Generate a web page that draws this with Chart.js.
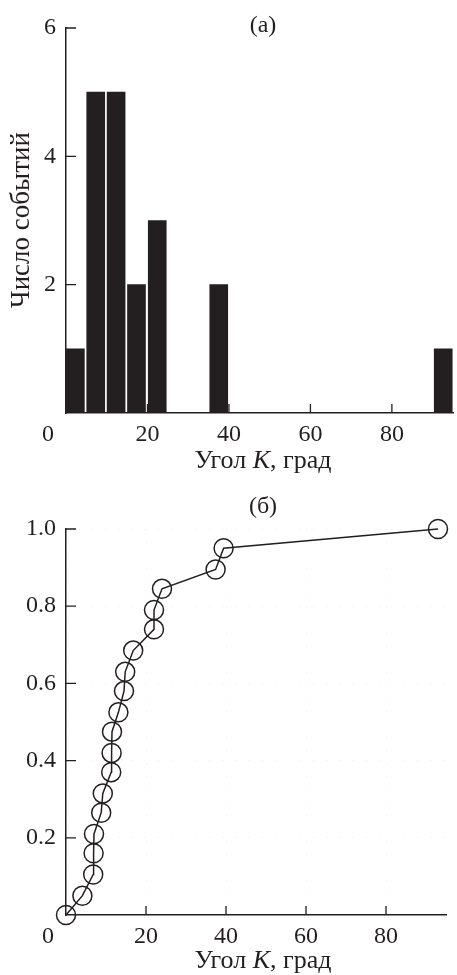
<!DOCTYPE html>
<html>
<head>
<meta charset="utf-8">
<script src="https://cdn.jsdelivr.net/npm/chart.js@4.4.1/dist/chart.umd.min.js"></script>
<style>
  html, body { margin: 0; padding: 0; background: #fff; }
  #wrap { position: relative; width: 457px; height: 975px; }
  canvas { position: absolute; left: 0; }
  #histChart { top: 0; }
  #cumChart { top: 470px; }
</style>
</head>
<body>
<div id="wrap">
  <canvas id="histChart" width="457" height="482"></canvas>
  <canvas id="cumChart" width="457" height="505"></canvas>
</div>
<script>
// (а) number of events per 5-degree bin of angle K
const binCenters = [2.3, 7.3, 12.3, 17.3, 22.4, 37.5, 92.6];
const eventCounts = [1, 5, 5, 2, 3, 2, 1];
const histTicksY = [2, 4, 6];

// (б) cumulative fraction of events vs angle K
const angleK = [0, 4.1, 6.8, 6.9, 7.0, 8.8, 9.2, 11.3, 11.4, 11.5, 13.1, 14.5, 14.8, 16.8, 22.0, 22.0, 24.0, 37.4, 39.4, 93.0];
const cumFraction = [0, 0.05, 0.105, 0.16, 0.21, 0.265, 0.315, 0.37, 0.42, 0.475, 0.525, 0.58, 0.63, 0.685, 0.74, 0.79, 0.845, 0.895, 0.95, 1.0];
const cumTicksY = [0.2, 0.4, 0.6, 0.8, 1.0];

const xTicks = [0, 20, 40, 60, 80];

const FONT = '"Liberation Serif", "Times New Roman", serif';
const INK = '#231f20';

// short tick marks pointing into the plot
const inwardTicks = {
  id: 'inwardTicks',
  beforeDatasetsDraw(chart) {
    const { ctx, chartArea: a, scales: { x, y } } = chart;
    ctx.save();
    ctx.strokeStyle = INK;
    ctx.lineWidth = 1.3;
    ctx.beginPath();
    x.ticks.forEach(t => {
      if (t.value === 0) return;
      const px = x.getPixelForValue(t.value);
      ctx.moveTo(px, a.bottom);
      ctx.lineTo(px, a.bottom - 9);
    });
    y.ticks.forEach(t => {
      const py = y.getPixelForValue(t.value);
      ctx.moveTo(a.left, py);
      ctx.lineTo(a.left + 10, py);
    });
    ctx.stroke();
    ctx.restore();
  }
};

// panel label, x title with italic K, optional rotated y title
function panelText(label, labelY, titleBaseline, yTitle) {
  return {
    id: 'panelText',
    afterDraw(chart) {
      const ctx = chart.ctx;
      ctx.save();
      ctx.fillStyle = INK;
      ctx.textAlign = 'center';
      ctx.textBaseline = 'middle';
      ctx.font = `24px ${FONT}`;
      ctx.fillText(label, 263, labelY);

      const parts = [['Угол ', ''], ['K', 'italic '], [', град', '']];
      ctx.textAlign = 'left';
      ctx.textBaseline = 'alphabetic';
      let total = 0;
      parts.forEach(p => { ctx.font = `${p[1]}26px ${FONT}`; total += ctx.measureText(p[0]).width; });
      let cx = 263 - total / 2;
      parts.forEach(p => {
        ctx.font = `${p[1]}26px ${FONT}`;
        ctx.fillText(p[0], cx, titleBaseline);
        cx += ctx.measureText(p[0]).width;
      });

      if (yTitle) {
        ctx.translate(22, 220);
        ctx.rotate(-Math.PI / 2);
        ctx.textAlign = 'center';
        ctx.textBaseline = 'middle';
        ctx.font = `27px ${FONT}`;
        ctx.fillText(yTitle, 0, 0);
      }
      ctx.restore();
    }
  };
}

function xScale(canvasH, bottom, withGrid) {
  return {
    type: 'linear',
    offset: false,
    min: 0,
    max: 95,
    afterBuildTicks: s => { s.ticks = xTicks.map(v => ({ value: v })); },
    afterFit: s => { s.height = canvasH - bottom; },
    grid: { display: withGrid, offset: false, drawTicks: false, color: 'rgba(0,0,0,0.07)', lineWidth: 1 },
    border: { display: true, color: INK, width: 1.5, dash: [1, 12] },
    ticks: {
      autoSkip: false,
      maxRotation: 0,
      padding: 7,
      color: INK,
      font: { family: FONT, size: 24 },
      // the zero label sits left of the origin in the original
      callback: v => v === 0 ? '0      ' : String(v)
    }
  };
}

function yScale(max, tickValues, fmt, withGrid) {
  return {
    min: 0,
    max: max,
    afterBuildTicks: s => { s.ticks = tickValues.map(v => ({ value: v })); },
    afterFit: s => { s.width = 66; },
    grid: { display: withGrid, drawTicks: false, color: 'rgba(0,0,0,0.07)', lineWidth: 1 },
    border: { display: true, color: INK, width: 1.5, dash: [1, 12] },
    ticks: {
      padding: 10,
      color: INK,
      font: { family: FONT, size: 24 },
      callback: fmt
    }
  };
}

new Chart(document.getElementById('histChart').getContext('2d'), {
  type: 'bar',
  data: {
    datasets: [{
      data: binCenters.map((x, i) => ({ x, y: eventCounts[i] })),
      backgroundColor: INK,
      borderWidth: 0,
      barThickness: 18
    }]
  },
  options: {
    responsive: false,
    animation: false,
    layout: { padding: { top: 28, right: 4, left: 0, bottom: 0 } },
    plugins: { legend: { display: false }, tooltip: { enabled: false } },
    scales: {
      x: xScale(482, 413, false),
      y: yScale(6, histTicksY, v => String(v), false)
    }
  },
  plugins: [inwardTicks, panelText('(а)', 26, 468, 'Число событий')]
});

new Chart(document.getElementById('cumChart').getContext('2d'), {
  type: 'line',
  data: {
    datasets: [{
      data: angleK.map((x, i) => ({ x, y: cumFraction[i] })),
      borderColor: INK,
      borderWidth: 1.5,
      pointRadius: 9.5,
      pointBorderWidth: 1.5,
      pointBorderColor: INK,
      pointBackgroundColor: 'rgba(0,0,0,0)',
      tension: 0,
      clip: false
    }]
  },
  options: {
    responsive: false,
    animation: false,
    layout: { padding: { top: 59, right: 4, left: 0, bottom: 0 } },
    plugins: { legend: { display: false }, tooltip: { enabled: false } },
    scales: {
      x: xScale(505, 445, true),
      y: yScale(1, cumTicksY, v => v.toFixed(1), true)
    }
  },
  plugins: [inwardTicks, panelText('(б)', 37, 498, null)]
});
</script>
</body>
</html>
